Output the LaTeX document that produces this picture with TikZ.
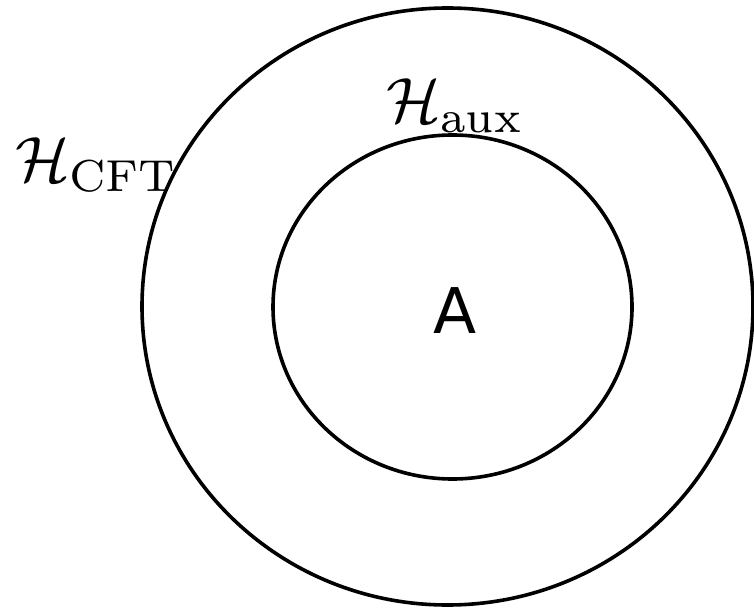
\documentclass[tikz,border=0pt]{standalone}
\usepackage{amsmath,amssymb}
\usepackage{fontspec}
\newfontfamily\dejavu{DejaVu Sans}
\usepackage{tikz}
\usetikzlibrary{positioning,shapes.geometric}
\begin{document}
\begin{tikzpicture}[
    x=1pt, y=-1pt,
    space/.style={draw, ellipse, line width=3.6pt, inner sep=0pt, outer sep=0pt},
    lbl/.style={inner sep=0pt, scale=6.4},
  ]
  \useasboundingbox (0,0) rectangle (754,609);
  \node[space, minimum width=611pt, minimum height=597pt] (cft) at (447.5,306.5) {};
  \node[space, minimum width=359pt, minimum height=344pt] (aux) at (452.5,307) {};
  \node[lbl, anchor=base west] (cftlabel) at (14,182) {$\mathcal{H}_{\mathrm{CFT}}$};
  \node[lbl, anchor=base west] (auxlabel) at (385,123) {$\mathcal{H}_{\mathrm{aux}}$};
  \node[inner sep=0pt, anchor=base, scale=6.3, font=\dejavu] (alabel) at (455,333) {A};
\end{tikzpicture}
\end{document}
